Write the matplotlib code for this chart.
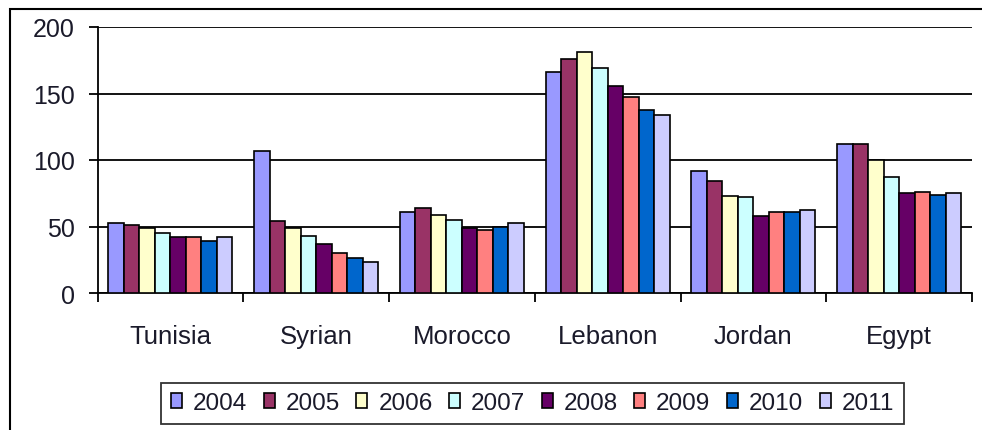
import matplotlib
matplotlib.use("Agg")
import matplotlib.pyplot as plt
import numpy as np
from matplotlib.patches import Rectangle

categories = ["Tunisia", "Syrian", "Morocco", "Lebanon", "Jordan", "Egypt"]
years = ["2004", "2005", "2006", "2007", "2008", "2009", "2010", "2011"]
v2004 = [53, 107, 61, 166, 92, 112]
v2005 = [51, 54, 64, 176, 84, 112]
v2006 = [49, 49, 59, 181, 73, 100]
v2007 = [45, 43, 55, 169, 72, 87]
v2008 = [42, 37, 48.5, 156, 58, 75]
v2009 = [42, 30, 47, 147, 61, 76]
v2010 = [39, 26, 49.5, 137.5, 61, 73.5]
v2011 = [42, 23, 53, 134, 62.5, 75]
series = [v2004, v2005, v2006, v2007, v2008, v2009, v2010, v2011]
colors = ["#9999FF", "#993366", "#FFFFCC", "#CCFFFF", "#660066", "#FF8080", "#0066CC", "#CCCCFF"]
yticks = [0, 50, 100, 150, 200]

plt.rcParams['font.family'] = ['Liberation Sans', 'DejaVu Sans']
txt = "#1a1a2a"

W, H = 982, 431
fig = plt.figure(figsize=(W / 100, H / 100), dpi=100)
fig.patches.append(Rectangle((10 / W, -0.1), 1.2, 1 - 10 / H + 0.1, transform=fig.transFigure,
                             fill=False, edgecolor="black", linewidth=1.5))

ax = fig.add_axes([97.5 / W, 1 - 294 / H, (972 - 97.5) / W, (294 - 28) / H])
n = len(series)
x = np.arange(len(categories))
group = 0.85
bw = group / n
for i, (vals, c) in enumerate(zip(series, colors)):
    ax.bar(x - group / 2 + bw * (i + 0.5), vals, width=bw, color=c, edgecolor="black",
           linewidth=1.2, label=years[i], zorder=3)

ax.set_xlim(-0.5, len(categories) - 0.5)
ax.set_ylim(0, 200)
ax.set_yticks(yticks)
ax.set_yticklabels([str(t) for t in yticks], fontsize=18, color=txt)
ax.yaxis.grid(True, color="black", linewidth=1.3, zorder=0)
ax.set_axisbelow(True)
for s in ["top", "right"]:
    ax.spines[s].set_visible(False)
ax.spines["left"].set_linewidth(1.3)
ax.spines["bottom"].set_linewidth(1.3)
ax.tick_params(axis="y", length=6.5, width=1.3, pad=10)
ax.set_xticks(np.arange(len(categories) + 1) - 0.5)
ax.set_xticklabels([])
ax.set_xticks(x, minor=True)
ax.set_xticklabels(categories, minor=True, fontsize=18.5, color=txt)
ax.tick_params(axis="x", which="major", length=6.5, width=1.3)
ax.tick_params(axis="x", which="minor", length=0, pad=22)

leg = fig.legend(loc="center", bbox_to_anchor=(532.5 / W, 1 - 404.5 / H), ncol=8, fontsize=17.5,
                 frameon=True, fancybox=False, edgecolor="black", handlelength=0.45,
                 handleheight=0.58, handletextpad=0.45, columnspacing=0.68, borderpad=0.4)
leg.get_frame().set_linewidth(1.3)
for t in leg.get_texts():
    t.set_color(txt)

fig.savefig("out.png", dpi=100)
